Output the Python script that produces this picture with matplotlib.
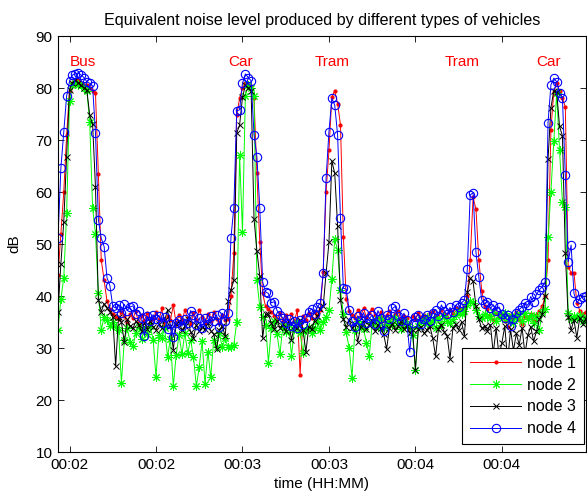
import numpy as np
import matplotlib
matplotlib.use('Agg')
import matplotlib.pyplot as plt

plt.rcParams['font.family'] = ['Liberation Sans', 'DejaVu Sans']

# one sample per second, starting at 116 s
t_start = 116

# node 1 (red)
node1 = [44, 52, 60, 71, 79.5, 81, 81.5, 81.5, 81, 80.5, 80.5, 80, 79.5, 79, 63.5, 47, 43, 39, 37.5, 36.5,
         36, 35.5, 37, 36.2, 34.8, 36.5, 35.7, 37.1, 34.6, 36.3, 35.2, 36.8, 34.9, 35.6, 36.9, 35.3, 37.6, 34.5, 36.1, 35.4,
         38.2, 34.7, 36.4, 35.1, 37.3, 35.8, 34.6, 36.7, 35.3, 37.4, 35.9, 34.8, 36.5, 35.2, 36.9, 35.6, 34.9, 36.3, 35.4,
         35.5, 40, 48.2, 74.8, 78, 80, 81, 80.8, 80.3, 78, 63.6, 50.3, 40.5, 38,
         37.5, 37, 36.2, 35.5, 36.8, 35.2, 36.3, 34.8, 36.5, 35.1, 37.3, 24.9, 36.2, 35.4, 36.7, 35.8, 36.9, 36.2, 37.4,
         44.7, 60, 68, 78.2, 79.5, 77, 72.9, 51.4, 39.5,
         37.2, 36.4, 35.8, 37.3, 36.1, 37.6, 35.9, 36.8, 37.5, 36.3, 35.6, 36.9, 35.2, 36.4, 37.1, 35.8, 36.6, 37.2, 35.4, 36.1,
         35.7, 33.5, 36.2, 35.5, 36.8, 35.9, 36.4, 35.3, 36.7, 37.1, 36.2, 35.8, 37.3, 36.5, 35.9, 37.4, 36.8, 37.6, 37.5,
         37.5, 38, 40, 47, 59, 56.7, 46.9, 41, 38,
         37.5, 36.2, 35.4, 36.8, 35.9, 36.5, 35.2, 34.1, 36.3, 35.7, 36.9, 35.3, 34.6, 36.2, 35.8, 36.6, 35.1, 36.4, 37.2,
         38, 40, 46.9, 72, 79.3, 80.9, 79.5, 78, 76.4, 45.6, 44.5, 44.4, 38.7, 37.2, 36.5, 37]

# node 2 (green)
node2 = [33.5, 39.5, 43.5, 56, 77.5, 80.5, 81, 80.5, 80.5, 80, 79.5, 73.5, 57, 52, 40.5, 33.4, 36, 35.4, 34.2, 35,
         34, 33.5, 23.3, 31.5, 33.8, 31.2, 30.4, 32.9, 34.1, 31.8, 33.5, 32.7, 34.2, 31.6, 24.4, 32.5, 31.9, 33.8, 28.3, 31.8,
         22.6, 28.7, 32.5, 28.8, 32.9, 29, 31.6, 28.3, 22.6, 26.4, 31.3, 23.1, 29.3, 24.4, 31.5, 30.1, 32.8, 30.1, 31.9,
         30.1, 30.1, 30.6, 35, 67.1, 52.4, 78.5, 80.5, 80, 78.5, 43, 37.9, 36, 34.5,
         27.2, 33.8, 35.1, 32.6, 28.8, 34.2, 33.1, 34.5, 28.5, 33.6, 34.8, 32.9, 29, 33.4, 34.1, 32.8, 33.9, 35.2, 33.5,
         35, 36, 37.3, 43.3, 50.9, 48.8, 41.2, 36.5, 33,
         30, 24.3, 33.5, 35.1, 34.2, 33.6, 31, 28.5, 34.8, 35.3, 34.1, 35.6, 33.9, 34.7, 35.2, 34.4, 35.8, 34.9, 33.7, 35.1,
         34.6, 33.8, 32.5, 25.8, 34.2, 35.4, 34.8, 35.9, 34.6, 35.3, 33.9, 35.7, 34.5, 36.1, 35.2, 34.8, 35.6, 36.3, 37.1,
         36.5, 37.2, 38.3, 39, 38.6, 37.4, 36.2, 35.8, 36.5,
         36.2, 35.8, 36.9, 35.1, 36.4, 35.7, 36.8, 35.3, 36.1, 34.8, 35.9, 36.5, 35.2, 36.7, 35.6, 36.3, 34.9, 36.1, 33.5,
         37, 37.5, 51.4, 60, 69.8, 79, 68, 58.1, 57.2, 36.7, 35.5, 36.2, 35.8, 36.4, 35.1, 36]

# node 3 (black)
node3 = [37, 46.2, 54.3, 66.8, 79.7, 81, 81.5, 81, 80.5, 80, 79.6, 74.8, 73.1, 61, 39.3, 37, 38.5, 37.7, 37, 36,
         26.5, 36, 35, 31.1, 35.5, 34.2, 33.8, 35.1, 34.5, 33.2, 34.8, 33.6, 35.2, 34.1, 33.5, 34.7, 33.9, 35.3, 37.3, 34.2,
         29.7, 34.6, 35.1, 33.4, 34.2, 35.6, 33.1, 32, 34.5, 33.2, 34.1, 33.6, 34.8, 33.3, 32.7, 29.8, 33.5, 34.2, 32.3,
         39.1, 41.2, 43, 71.3, 72.9, 78.2, 80.5, 80, 79.5, 54.9, 48.7, 43.8, 31.9, 36.5,
         36.5, 34.8, 33.6, 35.2, 33.9, 34.6, 33.2, 35.1, 31.6, 34.3, 33.8, 35.4, 33.5, 29.2, 34.1, 33.6, 35.2, 36.1, 37.5,
         38, 44.4, 50.3, 66, 63.6, 53.5, 39.2, 35.5, 34,
         35.4, 33.8, 34.6, 31.2, 34.1, 35.2, 33.6, 34.4, 35.1, 33.2, 34.5, 33.8, 32.6, 29.8, 33.9, 34.7, 33.5, 34.2, 35.1, 33.7,
         34.3, 32.9, 33.4, 25.8, 33.6, 34.1, 32.8, 33.5, 34.2, 31.9, 28.4, 33.7, 34.5, 33.1, 32.4, 27.9, 33.8, 34.6, 33.5,
         35, 32.4, 40.8, 43.4, 42.8, 38, 35.5, 33.8, 34.2,
         33.3, 34.5, 29, 33.8, 28.5, 31, 34.2, 27.5, 33.6, 29.5, 32.8, 30.6, 33.9, 28.8, 32.5, 34.1, 31.3, 33.2, 35.5,
         36.5, 40, 66.3, 76.2, 79.5, 79.3, 72.6, 70.8, 48.2, 36, 33.5, 35.4, 32, 35.8, 34.6, 35.5]

# node 4 (blue)
node4 = [51.2, 64.6, 71.5, 78.5, 81.3, 82.5, 82.7, 82.9, 82.5, 82, 81.2, 80.9, 80.4, 71.4, 54.7, 51.1, 49.5, 43.5, 42, 38,
         37.7, 38.2, 36.8, 38.4, 37.2, 37.9, 38.1, 36.6, 37.2, 35.8, 32.3, 36.1, 35.2, 36.4, 35.5, 36.2, 34.8, 35.9, 33.6, 34.6,
         32.1, 34.8, 35.3, 34.2, 35.6, 34.9, 37.2, 36.3, 34.5, 35.8, 33.9, 35.7, 34.6, 36.1, 35.2, 36.4, 34.1, 36.7, 35.1,
         36.7, 51.2, 57, 75.6, 75.8, 80.9, 82.7, 82, 81.4, 71, 66.8, 57, 42.7, 40.8,
         40.5, 38.7, 38.9, 37.2, 36.4, 35.8, 34.9, 35.6, 34.3, 35.1, 33.8, 35.4, 34.6, 35.8, 37, 37.5, 36.6, 37.9, 38.7,
         44.4, 62.6, 71.6, 78, 76.7, 71, 55, 41.5, 41.3,
         37.3, 35.2, 34.1, 36.2, 35.4, 36.8, 34.9, 35.7, 36.3, 34.6, 37.2, 35.8, 33.2, 36.4, 35.5, 37.6, 38, 36.1, 35.2, 36.7,
         35.3, 29.2, 34.8, 35.9, 36.4, 34.7, 35.6, 36.3, 35.1, 36.8, 37.4, 36.2, 38.3, 37.1, 36.5, 37.8, 36.9, 38.2, 37.8,
         38.7, 39.2, 45.1, 59.4, 59.9, 48.4, 43.6, 39.2, 38.5,
         38.9, 37.6, 38.3, 37.2, 37.9, 36.5, 35.8, 36.4, 34.2, 35.5, 36.8, 37.4, 37.9, 38.7, 38.2, 39.9, 38.9, 40.3, 41.2,
         41.8, 42.7, 73.3, 80.6, 81.9, 81.2, 79.1, 78, 63.3, 46.6, 49.8, 40.5, 38.7, 39.4, 39.9, 40]

# x ticks (seconds) and their HH:MM labels
tick_pos = [120, 150, 180, 210, 240, 270]
tick_labels = ['00:02', '00:02', '00:03', '00:03', '00:04', '00:04']

# vehicle labels
event_names = ['Bus', 'Car', 'Tram', 'Tram', 'Car']
event_pos = [120, 175, 205, 250, 282]

t = t_start + np.arange(len(node1))

fs = 11
fig = plt.figure(figsize=(5.87, 4.93), dpi=100)
ax = fig.add_axes([58 / 587, 41 / 493, 527.5 / 587, 416 / 493])

lw = 0.7
ax.plot(t, node1, color='red', marker='.', markersize=4, linewidth=lw, label='node 1')
ax.plot(t, node2, color=(0, 1, 0), marker=(8, 2, 0), markersize=6, markeredgewidth=0.7,
        linewidth=lw, label='node 2')
ax.plot(t, node3, color='black', marker='x', markersize=4.5, markeredgewidth=0.7,
        linewidth=lw, label='node 3')
ax.plot(t, node4, color='blue', marker='o', markersize=6, markerfacecolor='none',
        markeredgewidth=0.8, linewidth=lw, label='node 4')

for name, x in zip(event_names, event_pos):
    ax.text(x, 85, name, color='red', fontsize=fs, ha='left', va='center')

ax.set_xlim(t[0], t[-1])
ax.set_ylim(10, 90)
ax.set_yticks(range(10, 91, 10))
ax.set_xticks(tick_pos)
ax.set_xticklabels(tick_labels)
ax.tick_params(direction='in', top=True, right=True, length=4, width=0.6,
               labelsize=fs, pad=4)
for s in ax.spines.values():
    s.set_linewidth(0.8)

ax.set_title('Equivalent noise level produced by different types of vehicles',
             fontsize=11.6, pad=8)
ax.set_xlabel('time (HH:MM)', fontsize=fs, labelpad=4)
ax.set_ylabel('dB', fontsize=fs, labelpad=10)

leg = ax.legend(loc='lower right', bbox_to_anchor=(0.998, 0.019), borderaxespad=0,
                fontsize=11.5, fancybox=False, edgecolor='black', framealpha=1,
                handlelength=3.2, handletextpad=0.4, labelspacing=0.42,
                borderpad=0.5)
leg.get_frame().set_linewidth(0.8)

fig.savefig('out.png', dpi=100)
